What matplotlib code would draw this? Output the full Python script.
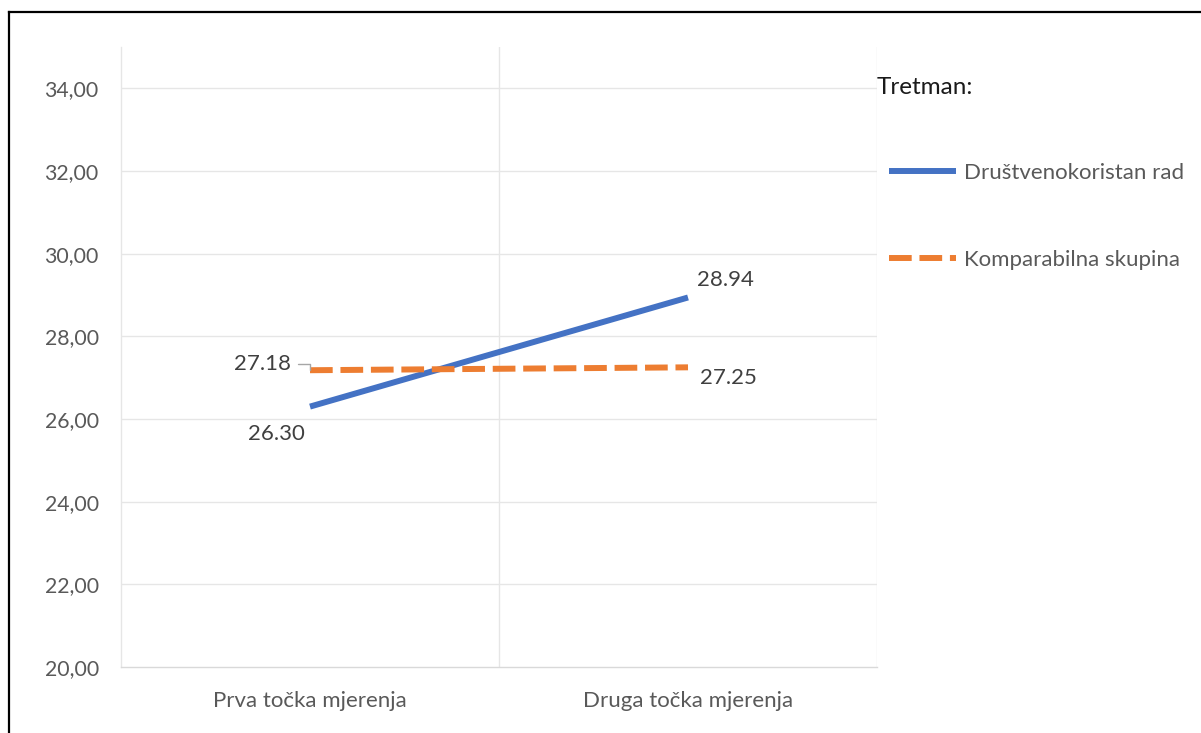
import matplotlib.pyplot as plt
from matplotlib.lines import Line2D

plt.rcParams['font.family'] = ['Lato', 'DejaVu Sans']

# ---- Data ----
categories = ["Prva točka mjerenja", "Druga točka mjerenja"]
series_names = ["Društvenokoristan rad", "Komparabilna skupina"]
drustveno = [26.30, 28.94]
komparab = [27.18, 27.25]
y_ticks = [20, 22, 24, 26, 28, 30, 32, 34]

BLUE = "#4472C4"
ORANGE = "#ED7D31"
GRID = "#E6E6E6"

W, H = 1201, 733
fig = plt.figure(figsize=(W / 100, H / 100), dpi=100)
ax = fig.add_axes([121 / W, 1 - 667 / H, (877 - 121) / W, (667 - 47) / H])

x = list(range(len(categories)))
ax.plot(x, drustveno, color=BLUE, linewidth=4.3, solid_capstyle="butt",
        label=series_names[0], zorder=3)
ax.plot(x, komparab, color=ORANGE, linewidth=4.3, linestyle=(0, (3.8, 1.3)),
        dash_capstyle="butt", label=series_names[1], zorder=3)

ax.set_xlim(-0.5, len(categories) - 0.5)
ax.set_ylim(20, 35)
ax.set_yticks(y_ticks)
ax.set_yticklabels([f"{v:.2f}".replace(".", ",") for v in y_ticks])
ax.set_xticks(x)
ax.set_xticklabels(categories)

# gridlines
for v in y_ticks[1:]:
    ax.axhline(v, color=GRID, linewidth=1, zorder=0)
for v in [0.5, 1.5]:
    ax.axvline(v, color=GRID, linewidth=1, zorder=0)

for s in ["top", "right"]:
    ax.spines[s].set_visible(False)
ax.spines["left"].set_color(GRID)
ax.spines["bottom"].set_color("#D9D9D9")
ax.spines["left"].set_linewidth(1)
ax.spines["bottom"].set_linewidth(1)
ax.tick_params(axis="y", length=0, labelsize=15.3, colors="#595959", pad=16)
ax.tick_params(axis="x", length=0, labelsize=16, colors="#595959", pad=17)

# data labels
lab = dict(fontsize=16, color="#404040")
ax.annotate(f"{drustveno[0]:.2f}", (x[0], drustveno[0]), xytext=(-24.5, -19.5),
            textcoords="offset points", ha="center", va="center", **lab)
ax.annotate(f"{drustveno[1]:.2f}", (x[1], drustveno[1]), xytext=(27, 12.5),
            textcoords="offset points", ha="center", va="center", **lab)
ax.annotate(f"{komparab[1]:.2f}", (x[1], komparab[1]), xytext=(29, -7.5),
            textcoords="offset points", ha="center", va="center", **lab)
ax.annotate(f"{komparab[0]:.2f}", (x[0], komparab[0]), xytext=(-34.5, 4.3),
            textcoords="offset points", ha="center", va="center", **lab)
# leader line for 27.18
ax.annotate("", (x[0], komparab[0]), xytext=(-9, 4.3),
            textcoords="offset points",
            arrowprops=dict(arrowstyle="-", color="#A6A6A6", lw=1,
                            connectionstyle="angle,angleA=0,angleB=90,rad=0",
                            shrinkA=0, shrinkB=0))

# legend
fig.text(877 / W, 1 - 87 / H, "Tretman:", fontsize=17.5, color="#1a1a1a",
         ha="left", va="center")
leg = fig.legend(handles=ax.get_lines()[:2], loc="upper left",
                 bbox_to_anchor=(880 / W, 1 - 154 / H), frameon=False,
                 fontsize=16, labelcolor="#595959", handlelength=3.0,
                 handletextpad=0.4, labelspacing=3.0, borderaxespad=0)

# outer frame (left and top edges)
fig.add_artist(Line2D([8.5 / W, 8.5 / W], [0, 1 - 12 / H], color="black",
                      linewidth=1.6, transform=fig.transFigure))
fig.add_artist(Line2D([8.5 / W, 1], [1 - 12 / H, 1 - 12 / H], color="black",
                      linewidth=1.6, transform=fig.transFigure))

fig.savefig("out.png", dpi=100)
